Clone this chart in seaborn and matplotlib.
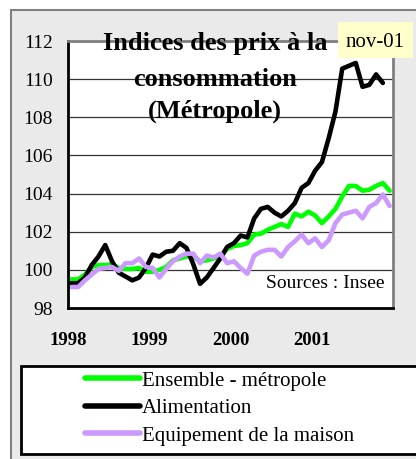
import numpy as np
import pandas as pd
import matplotlib
matplotlib.use("Agg")
import matplotlib.pyplot as plt
import seaborn as sns
from matplotlib.patches import Rectangle
from matplotlib.lines import Line2D

# indices mensuels, janv. 1998 -> nov. 2001
ensemble = [99.5, 99.5, 99.75, 100.15, 100.25, 100.25, 100.3, 100.1, 100.05, 100.05,
            100.1, 99.9, 99.9, 100.0, 100.15, 100.5, 100.6, 100.7, 100.7, 100.45,
            100.5, 100.6, 100.7, 101.1, 101.25, 101.3, 101.4, 101.85, 101.9, 102.1,
            102.25, 102.4, 102.25, 102.95, 102.8, 103.05, 102.85, 102.45, 102.8, 103.2,
            103.85, 104.4, 104.4, 104.15, 104.2, 104.4, 104.55, 104.15]
alimentation = [99.3, 99.3, 99.6, 100.25, 100.7, 101.3, 100.45, 99.85, 99.65, 99.45,
                99.6, 100.1, 100.8, 100.7, 100.95, 101.0, 101.4, 101.15, 100.3, 99.27,
                99.6, 100.1, 100.6, 101.2, 101.4, 101.8, 101.7, 102.7, 103.2, 103.3,
                103.0, 102.8, 103.1, 103.5, 104.3, 104.55, 105.2, 105.65, 106.9, 108.3,
                110.55, 110.7, 110.85, 109.6, 109.7, 110.25, 109.8]
equipement = [99.1, 99.1, 99.45, 99.75, 100.05, 100.1, 100.15, 99.95, 100.35, 100.35,
              100.6, 100.15, 100.1, 99.6, 100.05, 100.45, 100.7, 100.85, 100.85, 100.35,
              100.75, 100.65, 100.85, 100.35, 100.45, 100.1, 99.8, 100.75, 100.95, 101.05,
              101.05, 100.7, 101.2, 101.5, 101.85, 101.4, 101.65, 101.2, 101.55, 102.45,
              102.9, 103.0, 103.1, 102.7, 103.3, 103.5, 103.95, 103.35]

series_names = ["Ensemble - métropole", "Alimentation", "Equipement de la maison"]
colors = ["#00ff00", "#000000", "#cc99ff"]
year_labels = ["1998", "1999", "2000", "2001", ""]
y_ticks = [98, 100, 102, 104, 106, 108, 110, 112]

rows = []
for name, vals in zip(series_names, [ensemble, alimentation, equipement]):
    for i, v in enumerate(vals):
        rows.append({"mois": i + 0.5, "indice": v, "serie": name})
df = pd.DataFrame(rows)

sns.set_style("white")
plt.rcParams["font.family"] = ["Liberation Serif", "DejaVu Serif"]
plt.rcParams["text.color"] = "black"
plt.rcParams["xtick.color"] = "black"
plt.rcParams["ytick.color"] = "black"

W, H = 416, 459
fig = plt.figure(figsize=(W / 100, H / 100), dpi=100)
fig.patch.set_facecolor("white")

# fond gris du graphique
fig.add_artist(Rectangle((11 / W, -0.1), 1.2, 1.1 - 10 / H, transform=fig.transFigure,
                         facecolor="#eaeaea", edgecolor="#808080", lw=1.5, zorder=0))

ax = fig.add_axes([68 / W, 1 - 308 / H, (393 - 68) / W, (308 - 41) / H])
ax.set_facecolor("white")
sns.lineplot(data=df, x="mois", y="indice", hue="serie", hue_order=series_names,
             palette=colors, lw=3.3, ax=ax, legend=False)
ax.set_xlim(0, 48)
ax.set_ylim(98, 112)
ax.set_yticks(y_ticks)
ax.set_xticks([0, 12, 24, 36, 48])
ax.set_xticklabels(year_labels, fontsize=13.5, fontweight="bold")
ax.set_yticklabels([str(t) for t in y_ticks], fontsize=14)
ax.set_xlabel("")
ax.set_ylabel("")
ax.yaxis.grid(True, color="#333333", lw=0.9)
ax.set_axisbelow(True)
ax.tick_params(axis="both", direction="out", length=4, width=1.5, colors="black")
ax.tick_params(axis="x", pad=13)
ax.tick_params(axis="y", pad=7)
for s in ["left", "bottom"]:
    ax.spines[s].set_color("black")
    ax.spines[s].set_linewidth(2)
for s in ["top", "right"]:
    ax.spines[s].set_color("#808080")
    ax.spines[s].set_linewidth(2)

# titre dans la zone de tracé
for txt, yb in zip(["Indices des prix à la", "consommation", "(Métropole)"], [50, 85.5, 118]):
    fig.text(215 / W, 1 - yb / H, txt, ha="center", va="baseline",
             fontsize=19, fontweight="bold", color="black")

# étiquette de date
fig.add_artist(Rectangle((338 / W, 1 - 58 / H), 75 / W, 36 / H, transform=fig.transFigure,
                         facecolor="#ffffcc", edgecolor="none", zorder=3))
fig.text(375 / W, 1 - 47 / H, "nov-01", ha="center", va="baseline", fontsize=15, zorder=4)

fig.text(385 / W, 1 - 288 / H, "Sources : Insee", ha="right", va="baseline", fontsize=14)

# légende
fig.add_artist(Rectangle((21 / W, 1 - 454 / H), 1.0, 88 / H, transform=fig.transFigure,
                         facecolor="white", edgecolor="black", lw=2, zorder=1))
handles = [Line2D([], [], color=c, lw=4) for c in colors]
leg = fig.legend(handles, series_names, loc="upper left", bbox_to_anchor=(85 / W, 1 - 371 / H),
                 frameon=False, fontsize=15, handlelength=2.65, handletextpad=0.1,
                 labelspacing=0.38, borderpad=0, borderaxespad=0)
for t in leg.get_texts():
    t.set_color("black")

fig.savefig("out.png", dpi=100)
